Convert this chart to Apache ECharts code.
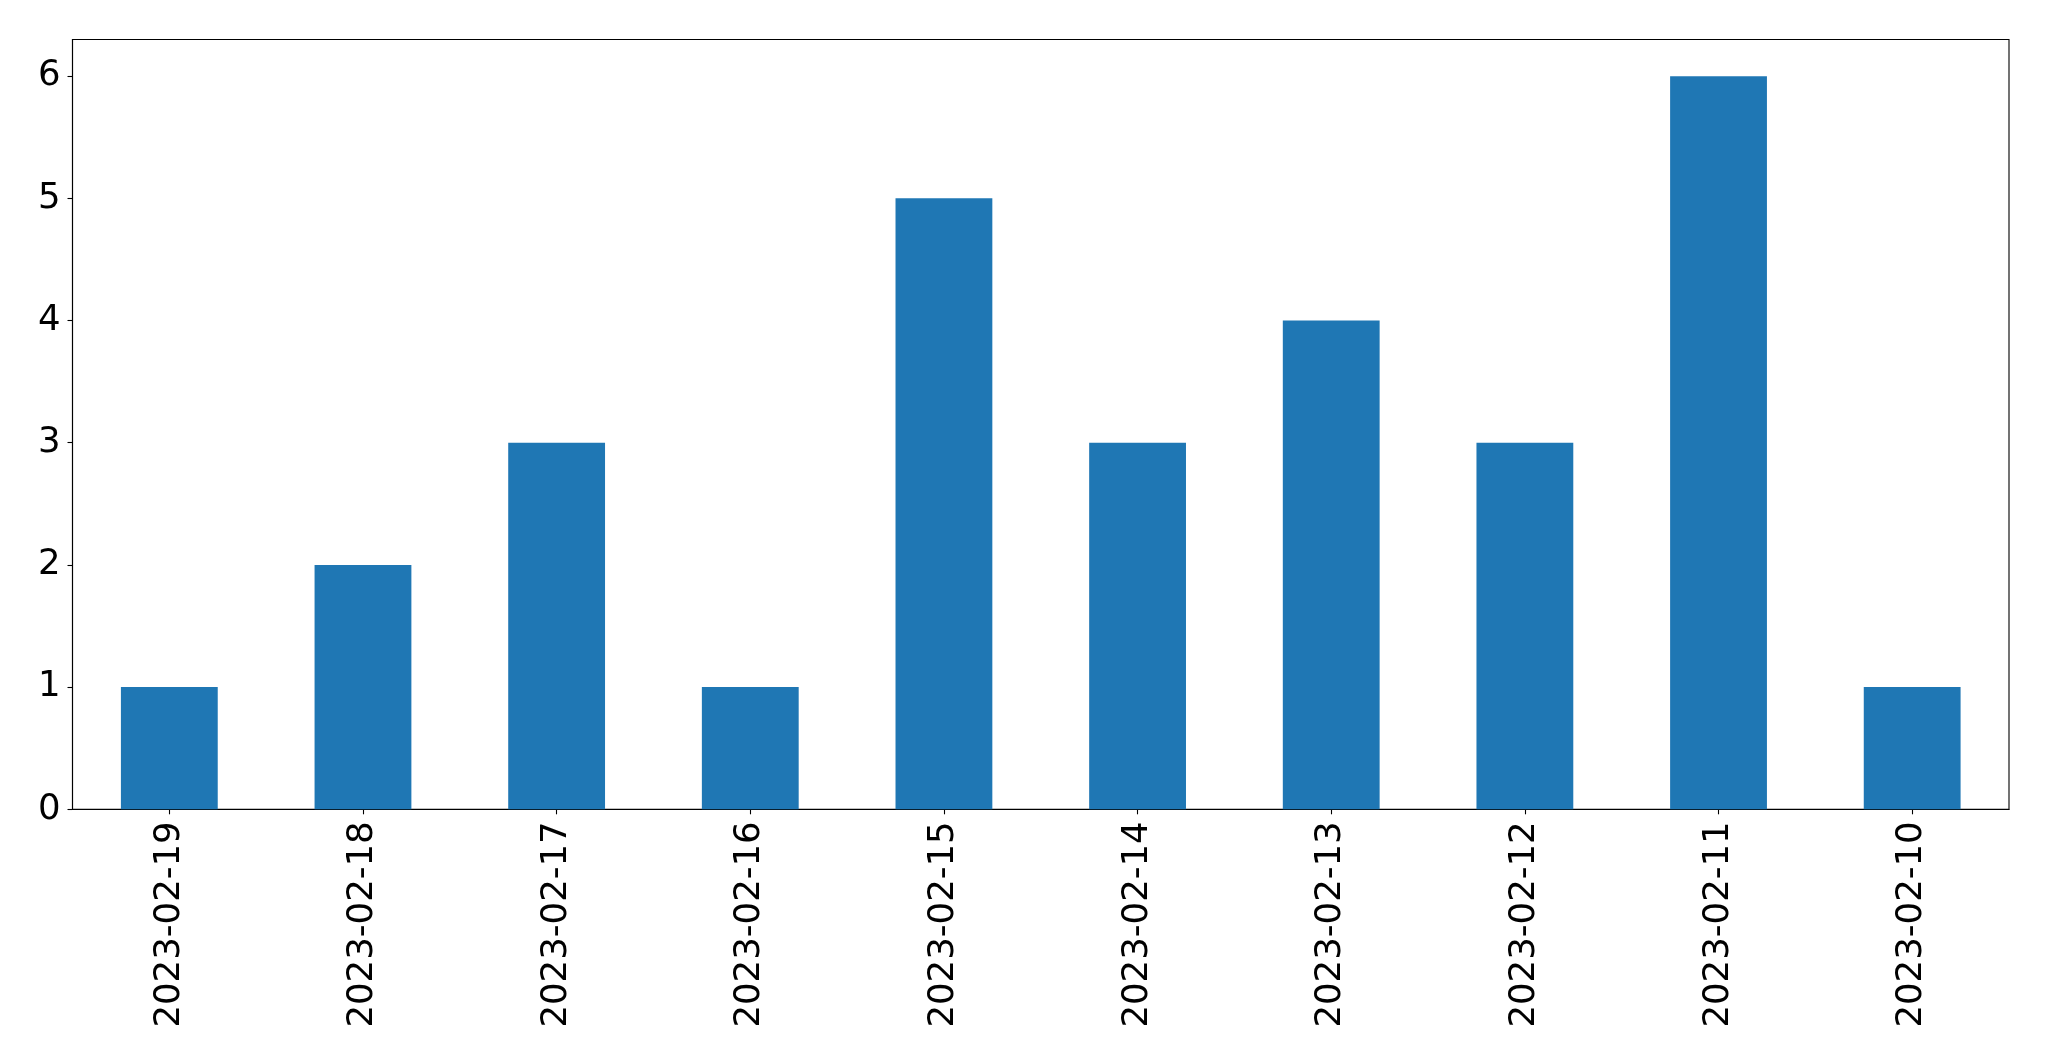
<!DOCTYPE html>
<html>
<head>
<meta charset="utf-8">
<script src="https://cdn.jsdelivr.net/npm/echarts@6/dist/echarts.min.js"></script>
<style>
html,body{margin:0;padding:0;background:#fff;}
#chart{width:2049px;height:1061px;}
</style>
</head>
<body>
<div id="chart"></div>
<script>
const categories = ['2023-02-19','2023-02-18','2023-02-17','2023-02-16','2023-02-15','2023-02-14','2023-02-13','2023-02-12','2023-02-11','2023-02-10'];
const counts = [1, 2, 3, 1, 5, 3, 4, 3, 6, 1];
const yTicks = [0, 1, 2, 3, 4, 5, 6];

const chart = echarts.init(document.getElementById('chart'), null, {renderer: 'canvas'});
const font = 'DejaVu Sans';
chart.setOption({
  animation: false,
  backgroundColor: '#ffffff',
  grid: {
    left: 72.5, right: 40, top: 39.5, bottom: 251.7,
    show: true, borderColor: '#000', borderWidth: 1.1, backgroundColor: 'transparent',
    containLabel: false
  },
  xAxis: {
    type: 'category',
    data: categories,
    boundaryGap: true,
    axisLine: {show: true, lineStyle: {color: '#000', width: 1.1}},
    axisTick: {show: true, alignWithLabel: true, length: 5, lineStyle: {color: '#000', width: 1.1}},
    axisLabel: {rotate: 90, margin: 12, color: '#000', fontSize: 35.5, fontFamily: font, interval: 0},
    splitLine: {show: false}
  },
  yAxis: {
    type: 'value',
    min: 0, max: 6.3, interval: 1,
    axisLine: {show: true, lineStyle: {color: '#000', width: 1.1}},
    axisTick: {show: true, length: 5, customValues: yTicks, lineStyle: {color: '#000', width: 1.1}},
    axisLabel: {margin: 12, color: '#000', fontSize: 35.5, fontFamily: font, customValues: yTicks},
    splitLine: {show: false}
  },
  series: [{
    type: 'bar',
    data: counts,
    barWidth: '50%',
    itemStyle: {color: '#1f77b4'}
  }]
});
</script>
</body>
</html>
